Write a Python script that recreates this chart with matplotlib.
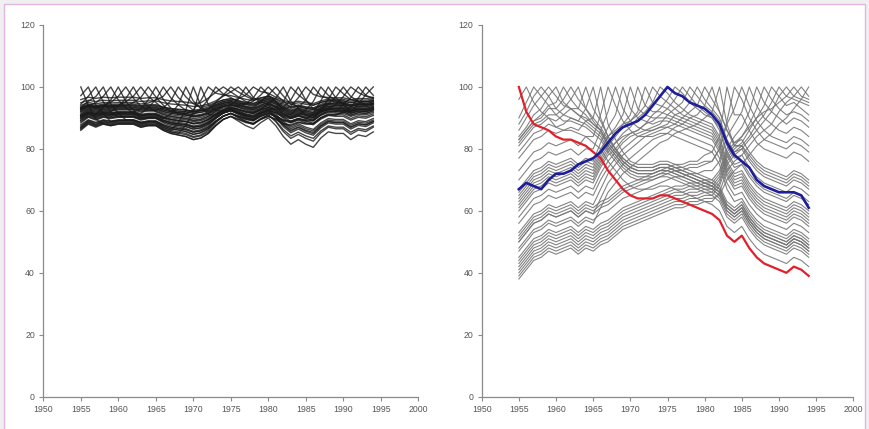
import matplotlib
matplotlib.use("Agg")
import matplotlib.pyplot as plt
from matplotlib.patches import Rectangle

plt.rcParams["font.family"] = ["Liberation Sans", "DejaVu Sans"]

years = list(range(1955, 1995))

# ---- right panel: one line per base year, 1955 (red) and 1975 (blue) highlighted
red_line = [100, 92, 88, 87, 86, 84, 83, 83, 82, 81, 79, 77, 73, 70, 67, 65, 64, 64, 64, 65,
            65, 64, 63, 62, 61, 60, 59, 57, 52, 50, 52, 48, 45, 43, 42, 41, 40, 42, 41, 39]
blue_line = [67, 69, 68, 67, 70, 72, 72, 73, 75, 76, 77, 79, 82, 85, 87, 88, 89, 91, 94, 97,
             100, 98, 97, 95, 94, 93, 91, 88, 82, 78, 76, 74, 70, 68, 67, 66, 66, 66, 65, 61]

right_rows = [
    red_line,
    [96,100,95,92,90,87,86,86,85,84,82,80,76,73,70,68,67,67,67,68,68,67,66,65,64,63,62,60,55,53,55,51,48,46,45,44,43,45,44,42],
    [90,95,100,97,94,91,89,89,88,87,85,83,79,76,73,71,70,70,70,71,71,70,69,68,67,66,65,63,58,56,58,54,51,49,48,47,46,48,47,45],
    [88,92,97,100,97,93,91,90,89,88,86,84,80,77,74,72,71,71,71,72,72,71,70,69,68,67,66,64,59,57,59,55,52,50,49,48,47,49,48,46],
    [86,90,94,97,100,97,94,93,91,90,88,86,82,79,76,74,73,73,73,74,74,73,72,71,70,69,68,66,61,59,61,57,54,52,51,50,49,51,50,48],
    [84,87,91,93,97,100,95,93,91,89,87,85,81,78,75,73,72,72,72,73,73,72,71,70,69,68,67,65,60,58,60,56,53,51,50,49,48,50,49,47],
    [83,86,89,91,94,95,100,96,93,91,88,86,82,79,76,74,73,73,73,74,74,73,72,71,70,69,68,66,61,59,61,57,54,52,51,50,49,51,50,48],
    [83,86,89,90,93,93,96,100,96,93,90,87,83,80,77,75,74,74,74,75,75,74,73,72,71,70,69,67,62,60,62,58,55,53,52,51,50,52,51,49],
    [82,85,88,89,91,91,93,96,100,93,89,86,81,78,75,73,72,72,72,73,73,72,71,70,69,68,67,65,60,58,60,56,53,51,50,49,48,50,49,47],
    [81,84,87,88,90,89,91,93,93,100,93,89,84,80,77,75,74,74,74,75,75,74,73,72,71,70,69,67,62,60,62,58,55,53,52,51,50,52,51,49],
    [79,82,85,86,88,87,88,90,89,93,100,90,84,80,76,74,73,73,73,74,74,73,72,71,70,69,68,66,61,59,61,57,54,52,51,50,49,51,50,48],
    [77,80,83,84,86,85,86,87,86,89,90,100,88,83,79,76,75,75,75,76,76,75,74,73,72,71,70,68,63,61,63,59,56,54,53,52,51,53,52,50],
    [73,76,79,80,82,81,82,83,81,84,84,91,100,94,89,86,84,84,84,85,85,84,83,82,81,80,79,75,67,63,64,60,57,55,54,53,52,54,53,51],
    [70,73,76,77,79,78,79,80,78,80,80,86,92,100,93,89,87,86,86,87,87,86,85,84,83,82,81,77,69,65,66,62,59,57,56,55,54,56,55,53],
    [67,70,73,74,76,75,76,77,75,77,76,82,87,91,100,93,90,89,88,89,89,88,87,86,85,84,83,79,71,67,68,64,61,59,58,57,56,58,57,55],
    [65,68,71,72,74,73,74,75,73,75,74,79,84,87,91,100,93,91,90,90,90,89,88,87,86,85,84,80,72,68,69,65,62,60,59,58,57,59,58,56],
    [64,67,70,71,73,72,73,74,72,74,73,78,82,85,88,91,100,94,92,92,91,90,89,88,87,86,85,81,73,69,70,66,63,61,60,59,58,60,59,57],
    [63,66,69,70,72,71,72,73,71,73,72,77,81,84,87,89,92,100,95,94,93,91,90,89,88,87,86,82,74,70,71,67,64,62,61,60,59,61,60,58],
    [66,69,72,73,75,74,75,76,74,76,75,80,84,86,88,89,91,94,100,97,95,93,91,90,89,88,87,83,75,71,72,68,65,63,62,61,60,62,61,59],
    [61,64,67,68,70,69,70,71,69,71,70,75,79,82,85,87,90,92,95,100,98,95,93,91,90,89,88,84,76,72,73,69,66,64,63,62,61,63,62,60],
    blue_line,
    [62,65,68,69,71,70,71,72,70,72,71,76,80,82,84,85,86,88,91,93,96,100,98,95,93,91,90,86,78,74,75,71,68,66,65,64,63,65,64,62],
    [60,63,66,67,69,68,69,70,68,70,69,74,78,80,83,85,86,88,89,91,93,96,100,97,94,92,90,87,79,75,76,72,69,67,66,65,64,66,65,63],
    [58,61,64,65,67,66,67,68,66,68,67,72,76,79,82,84,85,86,87,88,91,93,95,100,97,94,92,89,81,77,78,74,71,69,68,67,66,68,67,65],
    [56,59,62,63,65,64,65,66,64,66,65,70,74,77,80,82,84,85,86,87,88,91,92,95,100,96,93,90,83,79,80,76,73,71,70,69,68,70,69,67],
    [53,56,59,60,62,61,62,63,61,63,62,67,72,75,78,80,82,84,85,86,87,88,90,92,94,100,96,92,86,82,83,79,76,74,73,72,71,73,72,70],
    [50,53,56,57,59,58,59,60,58,60,59,64,69,72,75,77,79,81,83,84,85,87,88,90,91,94,100,92,86,81,81,77,74,72,71,70,69,71,70,68],
    [47,50,53,54,56,55,56,57,55,57,56,61,66,69,72,74,76,78,80,82,83,85,86,87,88,90,92,100,88,81,81,78,75,73,72,71,70,72,71,69],
    [52,55,58,59,61,60,61,62,60,62,61,63,64,66,68,69,70,71,72,73,74,75,75,76,76,78,79,84,100,91,91,86,82,80,79,78,77,79,78,76],
    [50,53,56,57,59,58,59,60,58,60,59,61,62,64,66,67,68,69,70,71,72,73,73,74,74,75,76,80,89,100,96,90,86,83,82,81,80,82,81,79],
    [51,54,57,58,60,59,60,61,59,61,60,62,63,65,67,68,69,70,71,72,73,74,74,75,75,76,76,80,88,93,100,94,89,86,84,83,82,84,83,81],
    [48,51,54,55,57,56,57,58,56,58,57,59,60,62,64,65,66,67,68,69,70,71,71,72,72,73,73,76,84,88,92,100,94,90,88,86,85,87,86,84],
    [45,48,51,52,54,53,54,55,53,55,54,56,57,59,61,62,63,64,65,66,67,68,68,69,69,70,70,73,80,84,87,92,100,95,92,90,88,90,89,87],
    [43,46,49,50,52,51,52,53,51,53,52,54,55,57,59,60,61,62,63,64,65,66,66,67,67,68,68,71,78,81,84,88,93,100,96,93,91,92,91,89],
    [42,45,48,49,51,50,51,52,50,52,51,53,54,56,58,59,60,61,62,63,64,65,65,66,66,67,67,70,77,80,82,86,90,94,100,97,94,95,93,91],
    [41,44,47,48,50,49,50,51,49,51,50,52,53,55,57,58,59,60,61,62,63,64,64,65,65,66,66,69,76,79,81,84,88,91,95,100,97,96,95,94],
    [40,43,46,47,49,48,49,50,48,50,49,51,52,54,56,57,58,59,60,61,62,63,63,64,64,65,65,68,75,78,80,83,86,89,92,97,100,97,96,95],
    [44,47,50,51,53,52,53,54,52,54,53,55,56,58,60,61,62,63,64,65,66,67,67,68,68,69,69,72,79,82,84,87,90,92,93,95,97,100,97,96],
    [38,41,44,45,47,46,47,48,46,48,47,49,50,52,54,55,56,57,58,59,60,61,61,62,62,63,63,66,73,76,78,81,84,86,88,92,95,97,100,97],
    [39,42,45,46,48,47,48,49,47,49,48,50,51,53,55,56,57,58,59,60,61,62,62,63,63,64,64,65,70,73,75,78,81,83,85,88,90,93,96,100],
]

# ---- left panel: one line per base year
left_rows = [
    [100,94,89.6,88,87.5,88,88,88,87,87.5,87.5,86,85,84.5,84,83,83.5,85,87.5,89.5,90.5,89,87.5,86.5,88.5,90,87.5,84,81.5,83,81.5,80.5,83.5,85.5,85,85,83,84.5,84,85.5],
    [97.2,100,94.2,91.4,88.8,89.2,89.2,89.2,88.3,88.8,88.8,87.4,86.5,86.1,85.6,84.7,85.2,86.5,88.8,90.6,91.5,90.1,88.8,87.9,89.7,91,88.8,85.6,83.4,84.7,83.4,82.5,85.2,87,86.5,86.5,84.7,86.1,85.6,87],
    [94.4,97,100,95.2,92,90.4,90.4,90.4,89.6,90,90,88.8,88,87.6,87.2,86.4,86.8,88,90,91.6,92.4,91.2,90,89.2,90.8,92,90,87.2,85.2,86.4,85.2,84.4,86.8,88.4,88,88,86.4,87.6,87.2,88.4],
    [93.4,95.4,96.9,100,94.5,91.5,89.4,89.4,88.6,89,89,87.8,87,86.6,86.2,85.4,85.8,87,89,90.6,91.4,90.2,89,88.2,89.8,91,89,86.2,84.2,85.4,84.2,83.4,85.8,87.4,87,87,85.4,86.6,86.2,87.4],
    [93,94,94.8,97,100,95.8,93.3,91.6,90.9,91.2,91.2,90.2,89.5,89.1,88.8,88.1,88.4,89.5,91.2,92.6,93.3,92.3,91.2,90.5,92,93,91.2,88.8,87,88.1,87,86.3,88.4,89.8,89.5,89.5,88.1,89.1,88.8,89.8],
    [90.6,91.8,91.2,93.4,95.8,100,95.3,92.5,89.9,90.2,90.2,89.2,88.5,88.1,87.8,87.1,87.4,88.5,90.2,91.6,92.3,91.3,90.2,89.5,91,92,90.2,87.8,86,87.1,86,85.3,87.4,88.8,88.5,88.5,87.1,88.1,87.8,88.8],
    [93,94,93.5,94,95,97,100,96.4,93.8,92.5,92.5,91.6,91,90.7,90.4,89.8,90.1,91,92.5,93.7,94.3,93.4,92.5,91.9,93.1,94,92.5,90.4,88.9,89.8,88.9,88.3,90.1,91.3,91,91,89.8,90.7,90.4,91.3],
    [91.1,92.3,91.7,92.3,92,93.8,96.2,100,95.9,93.6,92,91.1,90.5,90.2,89.9,89.3,89.6,90.5,92,93.2,93.8,92.9,92,91.4,92.6,93.5,92,89.9,88.4,89.3,88.4,87.8,89.6,90.8,90.5,90.5,89.3,90.2,89.9,90.8],
    [93,94,93.5,94,93.8,94,95.2,97,100,96.9,95,93,92.5,92.2,92,91.5,91.8,92.5,93.8,94.8,95.2,94.5,93.8,93.2,94.2,95,93.8,92,90.8,91.5,90.8,90.2,91.8,92.8,92.5,92.5,91.5,92.2,92,92.8],
    [92.6,93.8,93.2,93.8,93.5,93.8,93.8,95,96.6,100,96.8,94.1,92,91.7,91.4,90.8,91.1,92,93.5,94.7,95.3,94.4,93.5,92.9,94.1,95,93.5,91.4,89.9,90.8,89.9,89.3,91.1,92.3,92,92,90.8,91.7,91.4,92.3],
    [90.6,91.8,91.2,91.8,91.5,91.8,91.8,91.8,93,95.8,100,96,93.2,91.2,91,90.5,90.8,91.5,92.8,93.8,94.2,93.5,92.8,92.2,93.2,94,92.8,91,89.8,90.5,89.8,89.2,90.8,91.8,91.5,91.5,90.5,91.2,91,91.8],
    [90.7,92.1,91.4,92.1,91.7,92.1,92.1,92.1,91.4,93.4,95.9,100,96.5,94.2,92.5,92,92.3,93,94.3,95.3,95.7,95,94.3,93.7,94.7,95.5,94.3,92.5,91.3,92,91.3,90.7,92.3,93.3,93,93,92,92.7,92.5,93.3],
    [94,95,94.5,95,94.8,95,95,95,94.5,94.8,95.8,97,100,96.6,94.4,92.5,92.8,93.5,94.8,95.8,96.2,95.5,94.8,94.2,95.2,96,94.8,93,91.8,92.5,91.8,91.2,92.8,93.8,93.5,93.5,92.5,93.2,93,93.8],
    [91.6,92.8,92.2,92.8,92.5,92.8,92.8,92.8,92.2,92.5,92.5,93.3,95.5,100,96.8,94.6,93.4,94,95,95.8,96.2,95.6,95,94.6,95.4,96,95,93.6,92.6,93.2,92.6,92.2,93.4,94.2,94,94,93.2,93.8,93.6,94.2],
    [89.7,91.1,90.4,91.1,90.7,91.1,91.1,91.1,90.4,90.7,90.7,89.7,91.2,94.3,100,95.5,93,92,93.3,94.3,94.7,94,93.3,92.7,93.7,94.5,93.3,91.5,90.3,91,90.3,89.7,91.3,92.3,92,92,91,91.7,91.5,92.3],
    [86.9,88.7,87.8,88.7,88.3,88.7,88.7,88.7,87.8,88.3,88.3,86.9,86,88.5,92.6,100,94,91.2,90.7,92.1,92.8,91.8,90.7,90,91.5,92.5,90.7,88.3,86.5,87.6,86.5,85.8,87.9,89.3,89,89,87.6,88.6,88.3,89.3],
    [86.5,88.5,87.5,88.5,88,88.5,88.5,88.5,87.5,88,88,86.5,85.5,85,87.6,91.8,100,94.3,92.4,92.1,92.9,91.7,90.5,89.7,91.3,92.5,90.5,87.7,85.7,86.9,85.7,84.9,87.3,88.9,88.5,88.5,86.9,88.1,87.7,88.9],
    [92.6,93.8,93.2,93.8,93.5,93.8,93.8,93.8,93.2,93.5,93.5,92.6,92,91.7,91.4,92.6,95.6,100,98,97.4,97.2,96.6,96,95.6,96.4,97,96,94.6,93.6,94.2,93.6,93.2,94.4,95.2,95,95,94.2,94.8,94.6,95.2],
    [92.5,93.5,93,93.5,93.3,93.5,93.5,93.5,93,93.3,93.3,92.5,92,91.7,91.5,91,93,96,100,97.7,96.6,95.1,94.5,94.1,94.9,95.5,94.5,93.1,92.1,92.7,92.1,91.7,92.9,93.7,93.5,93.5,92.7,93.3,93.1,93.7],
    [95.9,96.7,96.3,96.7,96.5,96.7,96.7,96.7,96.3,96.5,96.5,95.9,95.5,95.3,95.1,94.7,94.9,96.4,98.3,100,98.4,96.8,95.3,94.7,95.7,96.5,95.3,93.5,92.3,93,92.3,91.7,93.3,94.3,94,94,93,93.7,93.5,94.3],
    [93,94,93.5,94,93.8,94,94,94,93.5,93.8,93.8,93,92.5,92.2,92,91.5,91.8,92.5,95,97.4,100,98.4,97,95.9,96.5,97,96.2,95.2,94.4,94.9,94.4,94.1,95,95.6,95.5,95.5,94.9,95.3,95.2,95.6],
    [94.9,95.7,95.3,95.7,95.5,95.7,95.7,95.7,95.3,95.5,95.5,94.9,94.5,94.3,94.1,93.7,93.9,94.5,95.5,97,98.4,100,97.8,96.1,95.9,96.5,95.5,94.1,93.1,93.7,93.1,92.7,93.9,94.7,94.5,94.5,93.7,94.3,94.1,94.7],
    [90.1,91.3,90.7,91.3,91,91.3,91.3,91.3,90.7,91,91,90.1,89.5,89.2,88.9,88.3,88.6,89.5,91,92.2,94.2,96.1,100,96.6,95.1,94.5,93.5,92.1,91.1,91.7,91.1,90.7,91.9,92.7,92.5,92.5,91.7,92.3,92.1,92.7],
    [93.5,94.5,94,94.5,94.3,94.5,94.5,94.5,94,94.3,94.3,93.5,93,92.7,92.5,92,92.3,93,94.3,95.3,95.7,96.2,97.4,100,98.5,98,96.7,95.7,94.9,95.4,94.9,94.6,95.5,96.1,96,96,95.4,95.8,95.7,96.1],
    [92,93,92.5,93,92.8,93,93,93,92.5,92.8,92.8,92,91.5,91.2,91,90.5,90.8,91.5,92.8,93.8,94.2,93.8,94.6,96.5,100,97.5,95.2,92.6,91.6,92.2,91.6,91.2,92.4,93.2,93,93,92.2,92.8,92.6,93.2],
    [93.4,94.2,93.8,94.2,94,94.2,94.2,94.2,93.8,94,94,93.4,93,92.8,92.6,92.2,92.4,93,94,94.8,95.2,94.8,94.4,95.4,97.4,100,97.6,95.4,93.4,93.9,93.4,93.1,94,94.6,94.5,94.5,93.9,94.3,94.2,94.6],
    [92.1,93.3,92.7,93.3,93,93.3,93.3,93.3,92.7,93,93,92.1,91.5,91.2,90.9,90.3,90.6,91.5,93,94.2,94.8,94.2,93.6,93.3,95.4,97.4,100,97.1,94.5,93.7,93.1,92.7,93.9,94.7,94.5,94.5,93.7,94.3,94.1,94.7],
    [90.2,91.6,90.9,91.6,91.2,91.6,91.6,91.6,90.9,91.2,91.2,90.2,89.5,89.1,88.8,88.1,88.4,89.5,91.2,92.6,93.3,92.7,92,91.6,92.7,94.7,96.4,100,95.4,93.2,90.8,90.2,91.8,92.8,92.5,92.5,91.5,92.2,92,92.8],
    [88.8,90.4,89.6,90.4,90,90.4,90.4,90.4,89.6,90,90,88.8,88,87.6,87.2,86.4,86.8,88,90,91.6,92.4,91.6,90.8,90.4,91.6,92.4,93.3,95.2,100,97.5,95.5,94.1,95,95.6,95.5,95.5,94.9,95.3,95.2,95.6],
    [90.6,91.8,91.2,91.8,91.5,91.8,91.8,91.8,91.2,91.5,91.5,90.6,90,89.7,89.4,88.8,89.1,90,91.5,92.7,93.3,92.7,92.1,91.8,92.7,93.3,92.7,93.4,95.8,100,95.8,93,92.4,93.2,93,93,92.2,92.8,92.6,93.2],
    [91.2,92.6,91.9,92.6,92.2,92.6,92.6,92.6,91.9,92.2,92.2,91.2,90.5,90.1,89.8,89.1,89.4,90.5,92.2,93.6,94.3,93.7,93,92.6,93.7,94.4,93.7,92.6,93.8,96.5,100,97.6,96.8,96.6,96.5,96.5,95.9,96.3,96.2,96.6],
    [89.8,91.4,90.6,91.4,91,91.4,91.4,91.4,90.6,91,91,89.8,89,88.6,88.2,87.4,87.8,89,91,92.6,93.4,92.6,91.8,91.4,92.6,93.4,92.6,91.4,91,93.4,95.7,100,97.2,96.2,95,95,94.2,94.8,94.6,95.2],
    [89.2,90.6,89.9,90.6,90.2,90.6,90.6,90.6,89.9,90.2,90.2,89.2,88.5,88.1,87.8,87.1,87.4,88.5,90.2,91.6,92.3,91.7,91,90.6,91.7,92.4,91.7,90.6,90.2,91,92.5,95.3,100,97.3,95.6,94.5,93.9,94.3,94.2,94.6],
    [87.8,89.4,88.6,89.4,89,89.4,89.4,89.4,88.6,89,89,87.8,87,86.6,86.2,85.4,85.8,87,89,90.6,91.4,90.6,89.8,89.4,90.6,91.4,90.6,89.4,89,89.8,89.4,91.5,95.5,100,96.5,94.4,92.2,92.8,92.6,93.2],
    [87.4,89.2,88.3,89.2,88.8,89.2,89.2,89.2,88.3,88.8,88.8,87.4,86.5,86.1,85.6,84.7,85.2,86.5,88.8,90.6,91.5,90.6,89.7,89.2,90.6,91.5,90.6,89.2,88.8,89.7,89.2,89.2,92.8,96,100,97.8,95.9,95.3,95.2,95.6],
    [89.3,90.9,90.1,90.9,90.5,90.9,90.9,90.9,90.1,90.5,90.5,89.3,88.5,88.1,87.7,86.9,87.3,88.5,90.5,92.1,92.9,92.1,91.3,90.9,92.1,92.9,92.1,90.9,90.5,91.3,90.9,90.9,92.5,94.6,96.7,100,96.9,95.4,94.1,94.7],
    [88.4,90.2,89.3,90.2,89.8,90.2,90.2,90.2,89.3,89.8,89.8,88.4,87.5,87.1,86.6,85.7,86.2,87.5,89.8,91.6,92.5,91.6,90.7,90.2,91.6,92.5,91.6,90.2,89.8,90.7,90.2,90.2,92,92.9,94.3,96.9,100,98.2,97,96.6],
    [87,89,88,89,88.5,89,89,89,88,88.5,88.5,87,86,85.5,85,84,84.5,86,88.5,90.5,91.5,90.5,89.5,89,90.5,91.5,90.5,89,88.5,89.5,89,89,91,92,92,94.4,96.5,100,97.3,96.2],
    [86.4,88.2,87.3,88.2,87.8,88.2,88.2,88.2,87.3,87.8,87.8,86.4,85.5,85.1,84.6,83.7,84.2,85.5,87.8,89.6,90.5,89.6,88.7,88.2,89.6,90.5,89.6,88.2,87.8,88.7,88.2,88.2,90,90.9,90.9,91.8,93.4,96.4,100,97.3],
    [86,88,87,88,87.5,88,88,88,87,87.5,87.5,86,85,84.5,84,83,83.5,85,87.5,89.5,90.5,89.5,88.5,88,89.5,90.5,89.5,88,87.5,88.5,88,88,90,91,91,92,92,94.4,97.5,100],
]

x_ticks = list(range(1950, 2001, 5))
y_ticks = list(range(0, 121, 20))

for name, rows in (("right", right_rows), ("left", left_rows)):
    for i, r in enumerate(rows):
        if len(r) != len(years):
            raise ValueError(f"{name} row {i} has {len(r)} values")

W, H = 870, 429
fig = plt.figure(figsize=(W / 100, H / 100), dpi=100, facecolor="#f0f0f0")
frame = Rectangle((4 / W, -0.05), 861 / W, 1.05 - 4 / H,
                  transform=fig.transFigure, facecolor="white",
                  edgecolor="#e2b6e2", linewidth=1.0, zorder=-10)
fig.add_artist(frame)

ax_l = fig.add_axes([43.3 / W, 32.3 / H, 375.0 / W, 371.7 / H])
ax_r = fig.add_axes([481.7 / W, 32.3 / H, 371.6 / W, 371.7 / H])

for ax in (ax_l, ax_r):
    ax.set_facecolor("none")
    ax.set_zorder(1)
    ax.set_xlim(1950, 2000)
    ax.set_ylim(0, 120)
    ax.set_xticks(x_ticks)
    ax.set_yticks(y_ticks)
    for side in ("top", "right"):
        ax.spines[side].set_visible(False)
    for side in ("left", "bottom"):
        ax.spines[side].set_color("#8a8a8a")
        ax.spines[side].set_linewidth(0.9)
    ax.tick_params(direction="out", length=3, width=0.8, color="#8a8a8a",
                   labelsize=6.3, labelcolor="#555555", pad=3)

for row in left_rows:
    ax_l.plot(years, row, color="#1a1a1a", linewidth=1.0, alpha=0.8,
              solid_joinstyle="round")

for row in right_rows:
    if row is red_line or row is blue_line:
        continue
    ax_r.plot(years, row, color="#767676", linewidth=0.8, alpha=0.9,
              solid_joinstyle="round")
ax_r.plot(years, red_line, color="#e0202a", linewidth=1.6, zorder=5)
ax_r.plot(years, blue_line, color="#1e1e9c", linewidth=1.9, zorder=6)

fig.savefig("out.png", dpi=100, facecolor=fig.get_facecolor())
